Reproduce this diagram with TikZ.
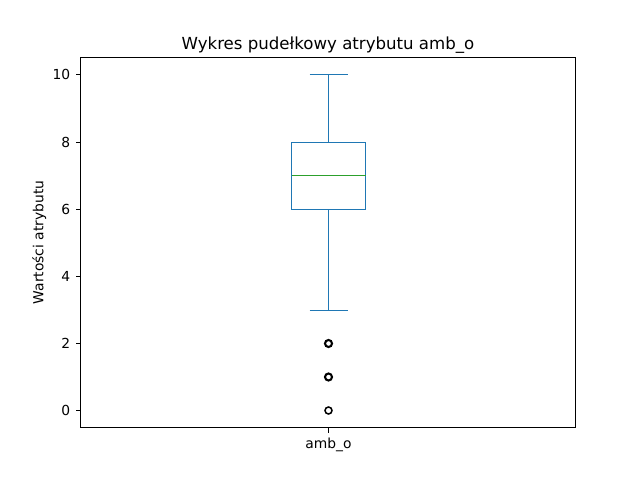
\documentclass[tikz,border=0pt]{standalone}
\usepackage{fontspec}
\setmainfont{DejaVu Sans}
\usepackage{tikz}
\definecolor{boxblue}{HTML}{1F77B4}
\definecolor{mediangreen}{HTML}{2CA02C}

\begin{document}
\begin{tikzpicture}[x=0.72bp, y=-0.72bp,
		spine/.style={draw, line width=0.75bp},
		tickmark/.style={line width=0.75bp},
		ticklabel/.style={font=\fontsize{10}{12}\selectfont, inner sep=0pt},
		boxline/.style={draw=boxblue, line width=1bp},
		flier/.style={draw=black, line width=1.5bp}
		]
		
		\useasboundingbox (0,0) rectangle (640,480);
		
		% Axes
		\draw[spine] (80.5,57.5) rectangle (575.5,427.5);
		
		% Y ticks
		\draw[tickmark] (80.5,410.5) -- (75.5,410.5) node[ticklabel, anchor=east, xshift=-3.5bp] (ytick0) {0};
		\draw[tickmark] (80.5,343.5) -- (75.5,343.5) node[ticklabel, anchor=east, xshift=-3.5bp] (ytick2) {2};
		\draw[tickmark] (80.5,276.5) -- (75.5,276.5) node[ticklabel, anchor=east, xshift=-3.5bp] (ytick4) {4};
		\draw[tickmark] (80.5,209.5) -- (75.5,209.5) node[ticklabel, anchor=east, xshift=-3.5bp] (ytick6) {6};
		\draw[tickmark] (80.5,142.5) -- (75.5,142.5) node[ticklabel, anchor=east, xshift=-3.5bp] (ytick8) {8};
		\draw[tickmark] (80.5,74.5) -- (75.5,74.5) node[ticklabel, anchor=east, xshift=-3.5bp] (ytick10) {10};
		
		% X tick
		\draw[tickmark] (328.5,427.5) -- (328.5,432.5) node[ticklabel, anchor=north, yshift=-3.5bp] (xtick) {amb\_o};
		
		% Box
		\coordinate (q1) at (328.5,209.5);
		\coordinate (q3) at (328.5,142.5);
		\coordinate (lowcap) at (328.5,310.5);
		\coordinate (highcap) at (328.5,74.5);
		\draw[boxline] (291.5,209.5) rectangle (365.5,142.5);
		\draw[draw=mediangreen, line width=1bp] (291.5,175.5) -- (365.5,175.5);
		\draw[boxline] (q1) -- (lowcap);
		\draw[boxline] (q3) -- (highcap);
		\draw[boxline] (309.5,310.5) -- (347.5,310.5);
		\draw[boxline] (309.5,74.5) -- (347.5,74.5);
		
		% Outliers
		\draw[flier] (328.5,343.5) circle (3.5);
		\draw[flier] (328.5,377) circle (3.5);
		\draw[flier, line width=1.1bp] (328.5,410.5) circle (3.5);
		
		% Labels
		\node[font=\fontsize{12}{14}\selectfont, inner sep=0pt, anchor=base] (title) at (328,49.3) {Wykres pudełkowy atrybutu amb\_o};
		\node[ticklabel, rotate=90, anchor=south] (ylabel) at (46.5,242.4) {Wartości atrybutu};
		
	\end{tikzpicture}
\end{document}
